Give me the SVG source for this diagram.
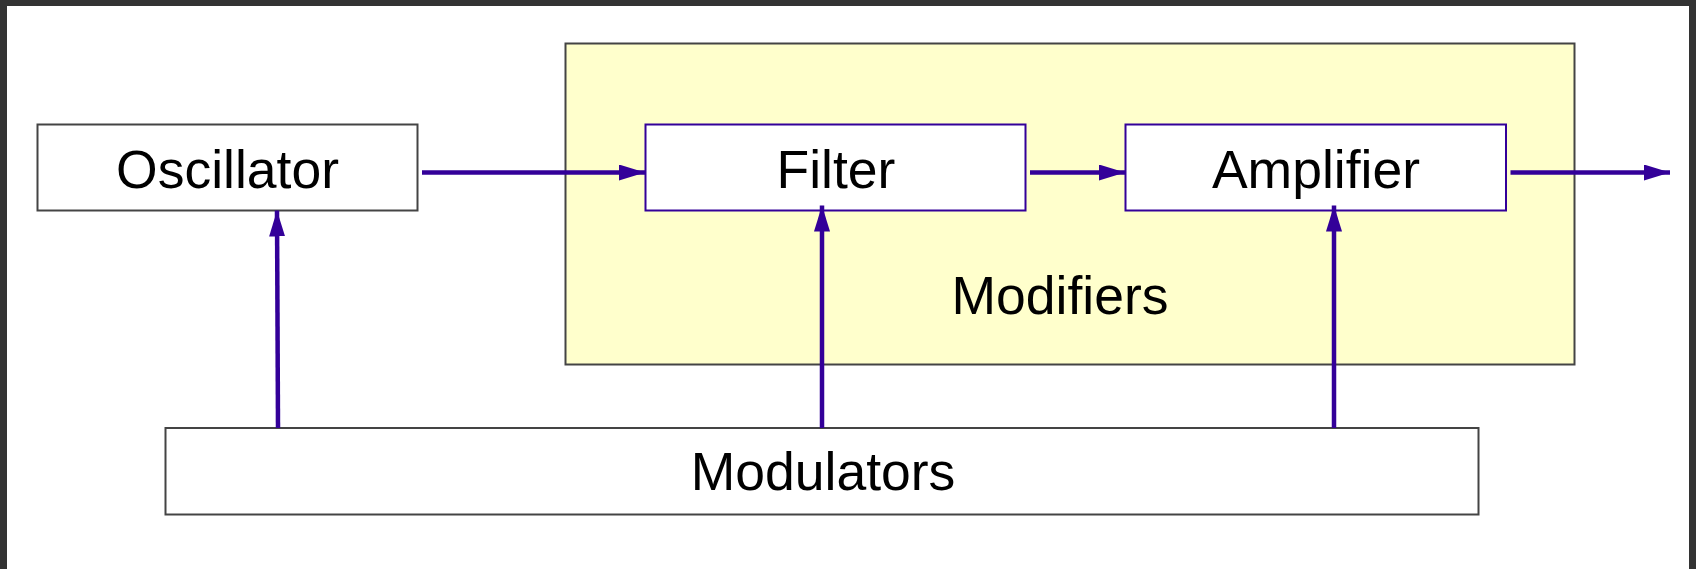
<svg xmlns="http://www.w3.org/2000/svg" width="1696" height="569" viewBox="0 0 1696 569">
<style>
.frame{fill:#333333}
.page{fill:#ffffff}
.box{fill:#ffffff;stroke:#444444;stroke-width:2}
.pbox{fill:#ffffff;stroke:#330099;stroke-width:2}
.group{fill:#ffffcc;stroke:#444444;stroke-width:2}
.lbl{font-family:"Liberation Sans",Arial,sans-serif;font-size:53.5px;fill:#000000}
.conn{stroke:#330099;stroke-width:4.5;fill:none}
</style>
<defs>
<marker id="arr" markerUnits="userSpaceOnUse" markerWidth="27" markerHeight="17" refX="26" refY="8" orient="auto">
<path d="M0,0 L26,8 L0,16 z" fill="#330099"/>
</marker>
</defs>
<rect class="frame" x="0" y="0" width="1696" height="569"/>
<rect class="page" x="7" y="6" width="1682" height="563"/>
<g id="modifiers">
<rect class="group" x="565.5" y="43.5" width="1009" height="321"/>
<text class="lbl" x="1060" y="314" text-anchor="middle">Modifiers</text>
</g>
<g id="oscillator">
<rect class="box" x="37.5" y="124.5" width="380" height="86"/>
<text class="lbl" x="227.5" y="188" text-anchor="middle">Oscillator</text>
</g>
<g id="filter">
<rect class="pbox" x="645.5" y="124.5" width="380" height="86"/>
<text class="lbl" x="836" y="188" text-anchor="middle">Filter</text>
</g>
<g id="amplifier">
<rect class="pbox" x="1125.5" y="124.5" width="380.5" height="86"/>
<text class="lbl" x="1316" y="188" text-anchor="middle">Amplifier</text>
</g>
<g id="modulators">
<rect class="box" x="165.5" y="428" width="1313" height="86.5"/>
<text class="lbl" x="823" y="490" text-anchor="middle">Modulators</text>
</g>
<g id="connectors">
<line class="conn" x1="422" y1="172.5" x2="645" y2="172.5" marker-end="url(#arr)"/>
<line class="conn" x1="1030" y1="172.5" x2="1125" y2="172.5" marker-end="url(#arr)"/>
<line class="conn" x1="1510.5" y1="172.5" x2="1670" y2="172.5" marker-end="url(#arr)"/>
<line class="conn" x1="278" y1="428" x2="277" y2="210.5" marker-end="url(#arr)"/>
<line class="conn" x1="822" y1="428" x2="822" y2="205.5" marker-end="url(#arr)"/>
<line class="conn" x1="1334" y1="428" x2="1334" y2="205.5" marker-end="url(#arr)"/>
</g>
</svg>
